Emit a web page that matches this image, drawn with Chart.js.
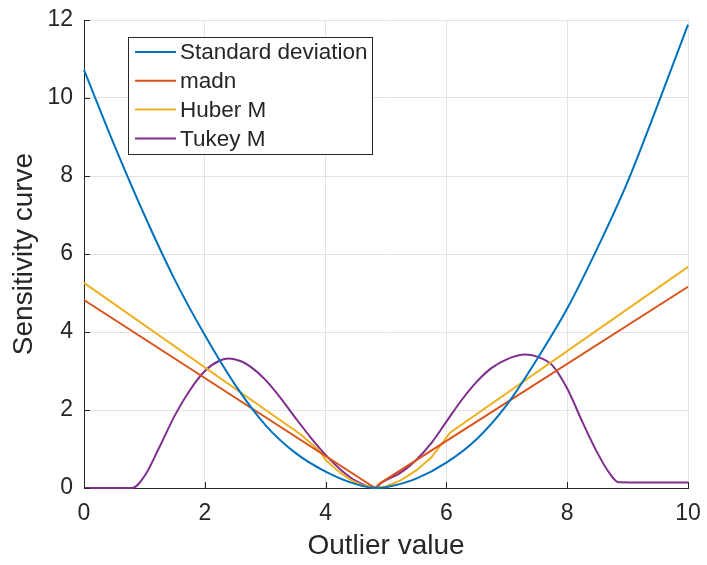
<!DOCTYPE html>
<html>
<head>
<meta charset="utf-8">
<script src="https://cdn.jsdelivr.net/npm/chart.js@4.4.0/dist/chart.umd.min.js"></script>
<style>
  html, body { margin: 0; padding: 0; background: #ffffff; }
  #wrap { width: 707px; height: 565px; position: relative; }
</style>
</head>
<body>
<div id="wrap"><canvas id="c" width="707" height="565"></canvas></div>
<script>
// ---- Data ----
const seriesNames = ["Standard deviation", "madn", "Huber M", "Tukey M"];

const sdX = [0, 0.5, 1.0, 1.5, 2.0, 2.5, 3.0, 3.5, 4.0, 4.5, 4.85, 5.0, 5.5, 6.0, 6.5, 7.0, 7.5, 8.0, 8.5, 9.0, 9.5, 10];
const sdY = [10.72, 8.8, 7.0, 5.35, 3.92, 2.65, 1.62, 0.9, 0.42, 0.1, 0.0, 0.02, 0.24, 0.65, 1.25, 2.13, 3.3, 4.6, 6.15, 7.85, 9.83, 11.88];

const madnX = [0, 4.82, 4.9, 10];
const madnY = [4.82, 0.0, 0.12, 5.16];

const huberX = [0, 3.6, 3.9, 4.0, 4.2, 4.4, 4.6, 4.82, 5.0, 5.25, 5.5, 5.75, 6.06, 10];
const huberY = [5.26, 1.36, 0.95, 0.72, 0.44, 0.22, 0.07, 0.0, 0.04, 0.2, 0.45, 0.78, 1.42, 5.67];

const tukeyX = [0, 0.8, 1.0, 1.25, 1.5, 1.75, 2.0, 2.25, 2.4, 2.6, 2.75, 3.0, 3.25, 3.5, 3.75, 4.0, 4.25, 4.5, 4.82, 4.92, 5.25, 5.5, 5.75, 6.0, 6.25, 6.5, 6.75, 7.0, 7.3, 7.5, 7.75, 8.0, 8.25, 8.5, 8.7, 8.85, 10];
const tukeyY = [0, 0, 0.3, 1.05, 1.85, 2.5, 3.0, 3.27, 3.32, 3.25, 3.12, 2.78, 2.32, 1.8, 1.3, 0.85, 0.47, 0.18, 0.0, 0.13, 0.4, 0.72, 1.15, 1.7, 2.25, 2.72, 3.08, 3.3, 3.42, 3.37, 3.15, 2.55, 1.7, 0.9, 0.38, 0.15, 0.14];

const xTicks = [0, 2, 4, 6, 8, 10];
const yTicks = [0, 2, 4, 6, 8, 10, 12];

const xTitle = "Outlier value";
const yTitle = "Sensitivity curve";

// ---- styles ----
const colors = ["#0072BD", "#D95319", "#EDB120", "#7E2F8E"];
const smooth = [true, false, false, true];
const axisColor = "#262626";
const gridColor = "#e3e3e3";
const FONT = "'Liberation Sans', Arial, Helvetica, sans-serif";

function pts(xs, ys) { return xs.map((x, i) => ({ x: x, y: ys[i] })); }

const allX = [sdX, madnX, huberX, tukeyX];
const allY = [sdY, madnY, huberY, tukeyY];

const datasets = seriesNames.map((name, i) => ({
  label: name,
  data: pts(allX[i], allY[i]),
  borderColor: colors[i],
  backgroundColor: colors[i],
  borderWidth: 2,
  pointRadius: 0,
  cubicInterpolationMode: smooth[i] ? 'monotone' : 'default',
  tension: smooth[i] ? 0.4 : 0,
  fill: false,
  clip: false
}));

// inward tick marks (MATLAB style) drawn from the library's scales
const tickMarks = {
  id: 'tickMarks',
  afterDatasetsDraw(chart) {
    const ctx = chart.ctx, xs = chart.scales.x, ys = chart.scales.y, a = chart.chartArea;
    ctx.save();
    ctx.strokeStyle = axisColor;
    ctx.lineWidth = 1;
    ctx.beginPath();
    xTicks.forEach(v => {
      const px = Math.round(xs.getPixelForValue(v)) + 0.5;
      ctx.moveTo(px, a.bottom); ctx.lineTo(px, a.bottom - 6);
    });
    yTicks.forEach(v => {
      const py = Math.round(ys.getPixelForValue(v)) + 0.5;
      ctx.moveTo(a.left, py); ctx.lineTo(a.left + 6, py);
    });
    ctx.stroke();
    ctx.restore();
  }
};

// legend box inside the axes
const boxLegend = {
  id: 'boxLegend',
  afterDraw(chart) {
    const ctx = chart.ctx;
    const left = 128.5, top = 37.5, w = 244, h = 117;
    ctx.save();
    ctx.fillStyle = "#ffffff";
    ctx.fillRect(left, top, w, h);
    ctx.strokeStyle = axisColor;
    ctx.lineWidth = 1;
    ctx.strokeRect(left, top, w, h);
    ctx.font = "22.5px " + FONT;
    ctx.textBaseline = "middle";
    ctx.fillStyle = axisColor;
    chart.data.datasets.forEach((ds, i) => {
      const cy = 52 + i * 28.8;
      ctx.strokeStyle = ds.borderColor;
      ctx.lineWidth = 2;
      ctx.beginPath();
      ctx.moveTo(135, cy); ctx.lineTo(176, cy);
      ctx.stroke();
      ctx.fillText(ds.label, 180, cy + 1);
    });
    ctx.restore();
  }
};

new Chart(document.getElementById('c'), {
  type: 'line',
  data: { datasets: datasets },
  options: {
    responsive: false,
    animation: false,
    layout: { padding: { left: 0, right: 19, top: 20, bottom: 0 } },
    plugins: { legend: { display: false }, tooltip: { enabled: false } },
    scales: {
      x: {
        type: 'linear',
        min: 0, max: 10,
        afterBuildTicks(scale) { scale.ticks = xTicks.map(v => ({ value: v })); },
        afterFit(scale) { scale.height = 77; scale.paddingLeft = 0; scale.paddingRight = 0; },
        grid: { color: gridColor, drawTicks: false, lineWidth: 1 },
        border: { display: true, color: axisColor, width: 1 },
        ticks: { color: axisColor, font: { family: FONT, size: 23 }, padding: 12, maxRotation: 0 },
        title: { display: true, text: xTitle, color: axisColor, font: { family: FONT, size: 28 }, padding: { top: 0, bottom: 2 } }
      },
      y: {
        type: 'linear',
        min: 0, max: 12,
        afterBuildTicks(scale) { scale.ticks = yTicks.map(v => ({ value: v })); },
        afterFit(scale) { scale.width = 84; scale.paddingTop = 0; scale.paddingBottom = 0; },
        grid: { color: gridColor, drawTicks: false, lineWidth: 1 },
        border: { display: true, color: axisColor, width: 1 },
        ticks: { color: axisColor, font: { family: FONT, size: 23 }, padding: 11 },
        title: { display: true, text: yTitle, color: axisColor, font: { family: FONT, size: 28 }, padding: { top: 7, bottom: 0 } }
      }
    }
  },
  plugins: [tickMarks, boxLegend]
});
</script>
</body>
</html>
